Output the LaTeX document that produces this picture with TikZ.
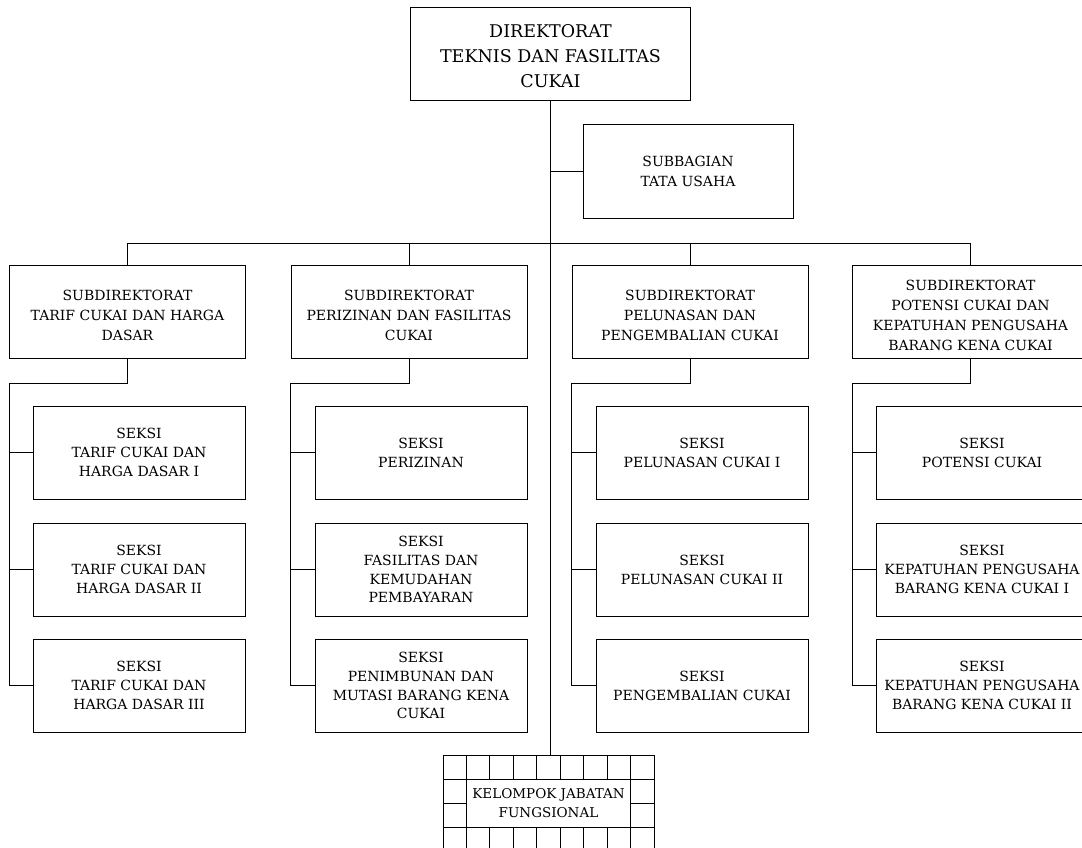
\documentclass[tikz,border=0pt]{standalone}
\usepackage{fontspec}
\setmainfont{DejaVu Serif}
\newcommand\toppad{\rule{0pt}{19pt}}
\begin{document}
\begin{tikzpicture}[x=1pt,y=-1pt,line width=0.9pt,
  box/.style={draw,line width=0.9pt,inner sep=0pt,align=center,font=\fontsize{14}{18.8}\selectfont},
  subbox/.style={box,minimum width=236pt,minimum height=93pt,font=\fontsize{14}{20}\selectfont},
  seksibox/.style={box,minimum width=212pt,minimum height=93pt},
  conn/.style={draw,line width=0.9pt}]
\useasboundingbox (0,0) rectangle (1082,847);
\clip (0,0) rectangle (1082,847);
% top
\node[box,minimum width=280pt,minimum height=93pt,font=\fontsize{17.5}{25}\selectfont] (dir) at (550.5,53.5) {\toppad DIREKTORAT\\TEKNIS DAN FASILITAS\\CUKAI};
\node[box,minimum width=210pt,minimum height=94pt,font=\fontsize{14}{20}\selectfont] (tu) at (688,171) {SUBBAGIAN\\TATA USAHA};
% subdirektorat
\node[subbox] (A) at (127.5,311.5) {\toppad SUBDIREKTORAT\\TARIF CUKAI DAN HARGA\\DASAR};
\node[subbox] (B) at (409,311.5) {\toppad SUBDIREKTORAT\\PERIZINAN DAN FASILITAS\\CUKAI};
\node[subbox] (C) at (690,311.5) {\toppad SUBDIREKTORAT\\PELUNASAN DAN\\PENGEMBALIAN CUKAI};
\node[subbox] (D) at (970.5,311.5) {\toppad SUBDIREKTORAT\\POTENSI CUKAI DAN\\KEPATUHAN PENGUSAHA\\BARANG KENA CUKAI};
% seksi
\node[seksibox] (A1) at (139,452.5) {SEKSI\\TARIF CUKAI DAN\\HARGA DASAR I};
\node[seksibox] (A2) at (139,569.5) {SEKSI\\TARIF CUKAI DAN\\HARGA DASAR II};
\node[seksibox] (A3) at (139,685.5) {SEKSI\\TARIF CUKAI DAN\\HARGA DASAR III};
\node[seksibox] (B1) at (421,452.5) {SEKSI\\PERIZINAN};
\node[seksibox] (B2) at (421,569.5) {SEKSI\\FASILITAS DAN\\KEMUDAHAN\\PEMBAYARAN};
\node[seksibox] (B3) at (421,685.5) {SEKSI\\PENIMBUNAN DAN\\MUTASI BARANG KENA\\CUKAI};
\node[seksibox] (C1) at (702,452.5) {SEKSI\\PELUNASAN CUKAI I};
\node[seksibox] (C2) at (702,569.5) {SEKSI\\PELUNASAN CUKAI II};
\node[seksibox] (C3) at (702,685.5) {SEKSI\\PENGEMBALIAN CUKAI};
\node[seksibox] (D1) at (982,452.5) {SEKSI\\POTENSI CUKAI};
\node[seksibox] (D2) at (982,569.5) {SEKSI\\KEPATUHAN PENGUSAHA\\BARANG KENA CUKAI I};
\node[seksibox] (D3) at (982,685.5) {SEKSI\\KEPATUHAN PENGUSAHA\\BARANG KENA CUKAI II};
% kelompok jabatan fungsional
\node[box,minimum width=164.2pt,minimum height=48pt,font=\fontsize{13.5}{19}\selectfont] (kjf) at (548.5,803) {KELOMPOK JABATAN\\FUNGSIONAL};
\foreach \i in {0,1,8,9} {\draw (443+\i*23.444,755) -- (443+\i*23.444,851);}
\foreach \i in {2,...,7} {\draw (443+\i*23.444,755) -- (443+\i*23.444,779);
  \draw (443+\i*23.444,827) -- (443+\i*23.444,851);}
\foreach \yy in {755,779,827,851} {\draw (443,\yy) -- (654,\yy);}
\draw (443,803) -- (466.444,803);
\draw (630.556,803) -- (654,803);
% connectors
\coordinate (kt) at (550.5,755);
\coordinate (bus) at (0,243);
\draw[conn] (dir.south) -- (kt);
\draw[conn] (tu.west) -- (tu.west -| dir.south);
\draw[conn] (A.north) -- (A.north |- bus) -- (D.north |- bus) -- (D.north);
\draw[conn] (B.north) -- (B.north |- bus);
\draw[conn] (C.north) -- (C.north |- bus);
\foreach \s in {A,B,C,D} {
  \draw[conn] (\s.south) -- ([yshift=-25pt]\s.south) -| (\s.south west |- \s3.west) -- (\s3.west);
  \draw[conn] (\s1.west) -- (\s1.west -| \s.south west);
  \draw[conn] (\s2.west) -- (\s2.west -| \s.south west);
}
\end{tikzpicture}
\end{document}
